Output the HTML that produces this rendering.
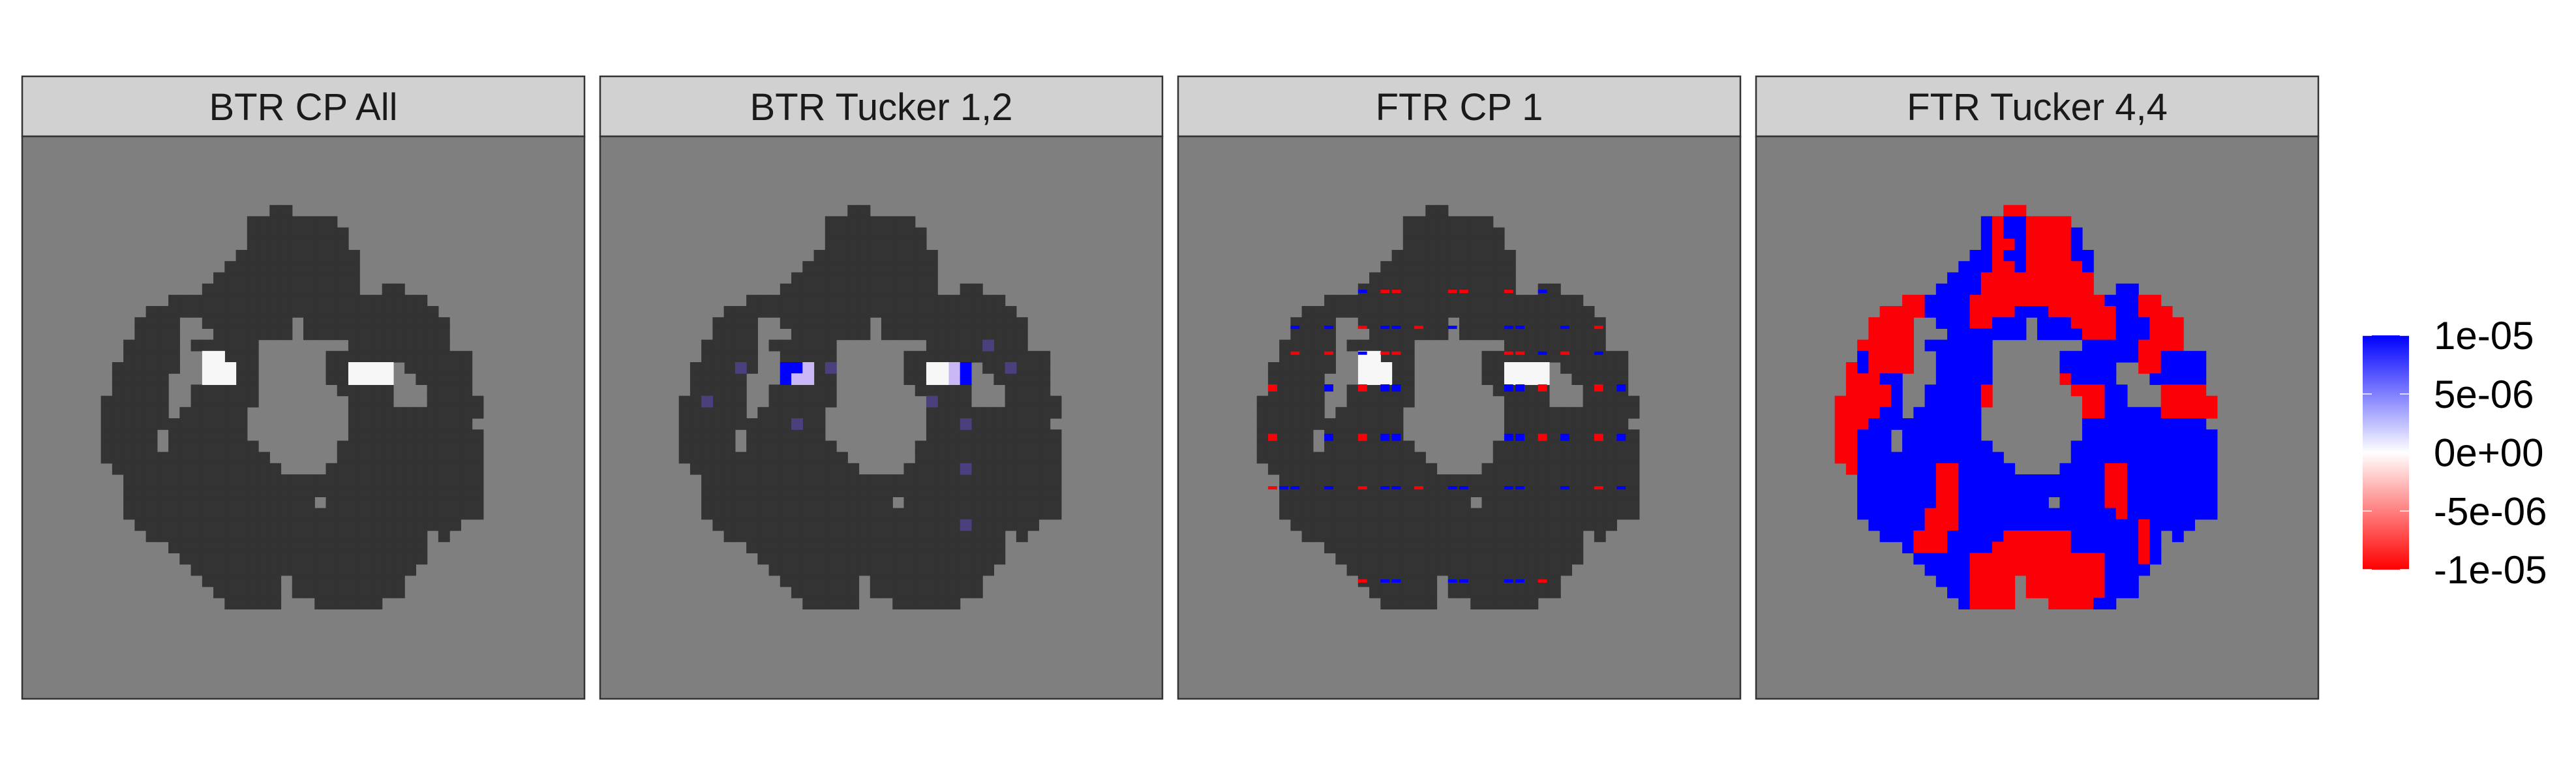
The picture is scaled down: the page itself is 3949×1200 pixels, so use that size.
<!DOCTYPE html>
<html><head><meta charset="utf-8"><title>Brain coefficient maps</title>
<style>
html,body{margin:0;padding:0;background:#fff;}
svg{display:block;font-family:"Liberation Sans",Arial,sans-serif;}
</style></head>
<body>
<svg id="chart" width="3949" height="1200" viewBox="0 0 3949 1200" xmlns="http://www.w3.org/2000/svg">
<defs>
<linearGradient id="cbar" x1="0" y1="0" x2="0" y2="1">
<stop offset="0" stop-color="#0000ff"/><stop offset="0.5" stop-color="#ffffff"/><stop offset="1" stop-color="#ff0000"/>
</linearGradient>
</defs>
<g id="panels"></g>
<g id="legend">
<rect x="3622" y="514" width="71" height="359" fill="url(#cbar)"/>
<g id="cticks"></g>
<g id="clabels" font-size="60" fill="#000"></g>
</g>
</svg>
<script>
const panelTitles = ["BTR CP All", "BTR Tucker 1,2", "FTR CP 1", "FTR Tucker 4,4"];
// FTR Tucker 4,4 sign map: [row, startCol, codes] b=positive, r=negative, .=outside
const ftrTuckerRows = [
[6,22,"rr"],[7,20,"brbbrrrr"],[8,20,"brbbrrrrb"],[9,20,"brrbrrrrb"],[10,19,"bbrbbrrrrbb"],
[11,18,"bbbrrbrrrrrb"],[12,17,"bbbrrrrrrrrrr"],[13,16,"bbbbrrrrrrrrrr..bb"],
[14,13,"rrbbbbrrrrrrrrrrrrbbbrr"],[15,11,"rrrrbbbbrrrrbbbrrrrrrbbrrr"],
[16,10,"rrrr..bbbrrbbb.bbbrrrrbbbrrr"],[17,10,"rrrr...bbbbbbb.bbbbrrrbbbrrr"],
[18,9,"rrrrr.bbbbbb........bbbbbrrrr"],[19,9,"brrrr..bbbbb......bbbbbbbrrbbbb"],
[20,8,"rbrrrr..bbbbb......bbbbb..rrbbbb"],[21,8,"rrrbb...bbbbb......rbbbb...bbbbb"],
[22,8,"rrrrb..bbbbbr.......rrrbb...rrrr"],[23,7,"rrrrrb..bbbbbr........rrbb...rrrrr"],
[24,7,"rrrrbb.bbbbbb.........rrbbbbbrrrrr"],[25,7,"rrrbbbbbbbbbb.........bbbbbbbbbbb"],
[26,7,"rrbbb.bbbbbbb.........bbbbbbbbbbbb"],[27,7,"rrbbb.bbbbbbbb.......bbbbbbbbbbbbb"],
[28,7,"rrbbbbbbbbbbbbb......bbbbbbbbbbbbb"],[29,8,"rbbbbbbbrrbbbbb....bbbbrrbbbbbbbb"],
[30,9,"bbbbbbbrrbbbbbbbbbbbbbrrbbbbbbbb"],[31,9,"bbbbbbbrrbbbbbbbbbbbbbrrbbbbbbbb"],
[32,9,"bbbbbbbrrbbbbbbbb.bbbbrrbbbbbbbb"],[33,9,"bbbbbbrrrbbbbbbbbbbbbbbrbbbbbbbb"],
[34,10,"bbbbbrrrbbbbbbbbbbbbbbbbrbbbb"],[35,11,"bbbrrrbbbbbrrrrrrbbbbbbrb.b"],
[36,13,"brrrbbbbrrrrrrrbbbbbbrb"],[37,14,"bbbbbrrrrrrrrrrrrbbbrb"],
[38,15,"bbbbrrrrrrrrrrrrbbbb"],[39,16,"bbbrrrr.rrrrrrrbbb"],[40,17,"bbrrrr.rrrrrrrbbb"],
[41,18,"brrrr...rrrrbb"]
];
// highlighted voxels per panel: [row, col, code]  w=~0, b=+1e-05, l=small +, p=faint +
const btrCpAllCells = [[19,16,"w"],[19,17,"w"],[20,16,"w"],[20,17,"w"],[20,18,"w"],[21,16,"w"],[21,17,"w"],[21,18,"w"],
[20,29,"w"],[20,30,"w"],[20,31,"w"],[20,32,"w"],[21,29,"w"],[21,30,"w"],[21,31,"w"],[21,32,"w"]];
const btrTuckerCells = [[20,16,"b"],[20,17,"b"],[20,18,"l"],[21,16,"b"],[21,17,"l"],[21,18,"l"],
[20,29,"w"],[20,30,"w"],[20,31,"l"],[20,32,"b"],[21,29,"w"],[21,30,"w"],[21,31,"l"],[21,32,"b"],
[23,9,"p"],[25,17,"p"],[25,32,"p"],[29,32,"p"],[34,32,"p"],[23,29,"p"],[18,34,"p"],[20,36,"p"],[20,12,"p"],[20,20,"p"]];
const ftrCpCells = [[19,16,"w"],[19,17,"w"],[20,16,"w"],[20,17,"w"],[20,18,"w"],[21,16,"w"],[21,17,"w"],[21,18,"w"],
[20,29,"w"],[20,30,"w"],[20,31,"w"],[20,32,"w"],[21,29,"w"],[21,30,"w"],[21,31,"w"],[21,32,"w"]];
// FTR CP 1 stripes: [row position, thick(1)/thin(0), startCol, codes]
const ftrCpStripes = [
[13.7,0,16,"b.rr....rr...r..b"],[16.9,0,10,"b..b..r.bb.r..b....bb...b..r"],
[19.2,0,10,"r..r..b.rr.........rr.b.r..b"],[22.3,1,8,"r....b..r.bb.........bb.r....r.b"],
[26.7,1,8,"r....b..r.bb.........bb.r.b..r.b"],[31.2,0,8,"rbb..b..r.bb.r..bb...bb...b..r.b"],
[39.5,0,16,"r.bb....bb...bb.r"]
];
const legendValues = [1e-05, 5e-06, 0, -5e-06, -1e-05];
const legendLabels = ["1e-05", "5e-06", "0e+00", "-5e-06", "-1e-05"];

const NS = "http://www.w3.org/2000/svg";
const panelLeft = [34, 920, 1806, 2692], panelW = 862, panelTop = 211, panelH = 860;
const nCols = 50, nRows = 50;
const colors = {b:"#0000ff", r:"#fb0007", d:"#333333", w:"#f7f7f7", l:"#c9b8f5", p:"#4b3f7e"};
const xCell = (p, c) => panelLeft[p] + c * panelW / nCols;
const yCell = r => panelTop + r * panelH / nRows;
function mk(tag, attrs, parent){const e=document.createElementNS(NS,tag);for(const k in attrs)e.setAttribute(k,attrs[k]);parent.appendChild(e);return e;}
const root = document.getElementById("panels");
const cw = panelW / nCols + 0.6, ch = panelH / nRows + 0.6;

function drawCell(g, p, r, c, code){
  const e = mk("rect",{x:xCell(p,c),y:yCell(r),width:cw,height:ch,fill:colors[code]},g);
  
  
}

panelTitles.forEach((t, p) => {
  const g = mk("g", {}, root);
  
  
  const strip = mk("rect",{x:panelLeft[p],y:117,width:panelW,height:92,fill:"#d1d1d1",stroke:"#333",["stroke-width"]:2.5},g);
  
  
  const tx = mk("text",{x:panelLeft[p]+panelW/2,y:184,"text-anchor":"middle","font-size":"58",fill:"#1a1a1a"},g);
  tx.textContent = t;
  
  
  const bg = mk("rect",{x:panelLeft[p],y:209,width:panelW,height:862,fill:"#7f7f7f"},g);
  
  
  const cells = mk("g",{},g);
  
  
  ftrTuckerRows.forEach(([r, s, str]) => {
    for (let i = 0; i < str.length; i++) {
      const ch0 = str[i]; if (ch0 === ".") continue;
      drawCell(cells, p, r, s + i, p === 3 ? ch0 : "d");
    }
  });
  const extra = p === 0 ? btrCpAllCells : p === 1 ? btrTuckerCells : p === 2 ? ftrCpCells : [];
  extra.forEach(([r, c, code]) => drawCell(cells, p, r, c, code));
  if (p === 2) {
    ftrCpStripes.forEach(([r, thick, s, str]) => {
      const h = thick ? 11 : 5;
      for (let i = 0; i < str.length; i++) {
        if (str[i] === ".") continue;
        const e = mk("rect",{x:xCell(p, s+i),y:yCell(r)-h/2,width:cw-4,height:h,fill:colors[str[i]]},cells);
        
        
      }
    });
  }
  const border = mk("rect",{x:panelLeft[p],y:209,width:panelW,height:862,fill:"none",stroke:"#333",["stroke-width"]:2.5},g);
  
  
});

// colorbar scale
const cbTop = 514, cbBot = 873, vMax = 1e-05, vMin = -1e-05;
const yLegend = v => cbTop + (vMax - v) / (vMax - vMin) * (cbBot - cbTop);
const tg = document.getElementById("cticks"), lg = document.getElementById("clabels");
legendValues.forEach((v, i) => {
  const y = yLegend(v);
  [[3622,3636],[3679,3693]].forEach(([a,b]) => {
    const l = mk("line",{x1:a,x2:b,y1:y,y2:y,stroke:"#fff","stroke-width":1.5},tg);
    
    
  });
  const t = mk("text",{x:3731,y:y+21},lg);
  t.textContent = legendLabels[i];
  
  
});
</script>
</body></html>
